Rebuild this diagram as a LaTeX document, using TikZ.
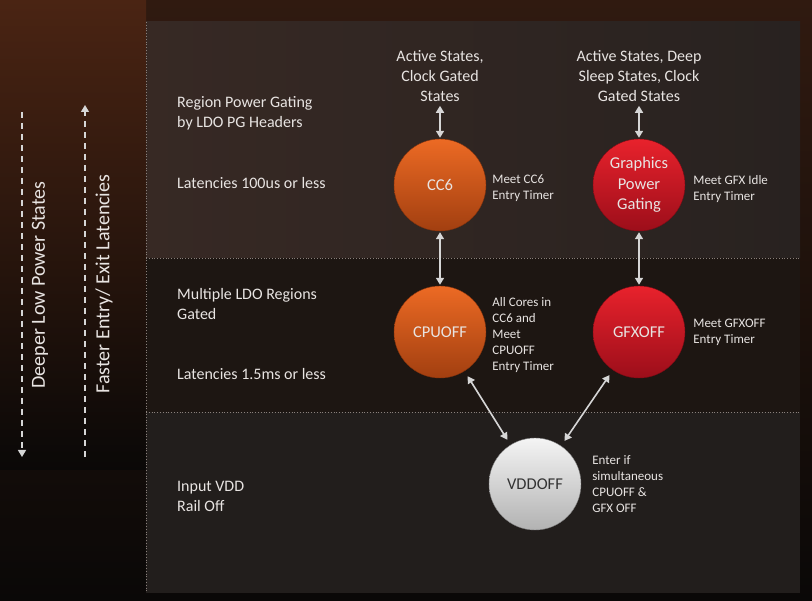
\documentclass[tikz,border=0pt]{standalone}
\usepackage{fontspec}
\setmainfont{Carlito}
\usepackage{tikz}
\usetikzlibrary{arrows.meta,positioning}
\definecolor{txtgray}{HTML}{E8E4E2}
\definecolor{arrowgray}{HTML}{D6D6D6}
\definecolor{dotgray}{HTML}{8A807B}
\definecolor{cpulight}{HTML}{EC6A24}
\definecolor{cpudark}{HTML}{A23F10}
\definecolor{gfxlight}{HTML}{E8222C}
\definecolor{gfxdark}{HTML}{9C0E1A}
\definecolor{vddlight}{HTML}{F4F4F4}
\definecolor{vdddark}{HTML}{B2B2B2}
\definecolor{bgtop}{HTML}{301A10}
\definecolor{bgbottom}{HTML}{0A0807}
\definecolor{bgbrown}{HTML}{4A2413}
\definecolor{bgbrownmid}{HTML}{3A1C0F}
\definecolor{paneltopA}{HTML}{372924}
\definecolor{paneltopB}{HTML}{282220}
\definecolor{panelmid}{HTML}{1D1612}
\definecolor{panelbot}{HTML}{221E1C}
\tikzstyle{cpustate} = [circle, minimum size=92pt, inner sep=0pt,
    top color=cpulight, bottom color=cpudark, draw=cpudark!80!black, thin,
    text=txtgray, align=center, font=\fontsize{16.5}{20.5}\selectfont]
\tikzstyle{gfxstate} = [cpustate, top color=gfxlight, bottom color=gfxdark, draw=gfxdark!80!black]
\tikzstyle{railstate} = [cpustate, top color=vddlight, bottom color=vdddark, draw=vdddark!70!black, text=black!80]
\tikzstyle{regiontext} = [text=txtgray, align=left, anchor=west, inner sep=0pt,
    font=\fontsize{16}{20}\selectfont]
\tikzstyle{sidenote} = [regiontext, font=\fontsize{13}{16}\selectfont]
\tikzstyle{toplabel} = [text=txtgray, align=center, inner sep=0pt, font=\fontsize{16}{20}\selectfont]
\tikzstyle{dblarrow} = [{Triangle[width=8pt,length=7pt]}-{Triangle[width=8pt,length=7pt]},
    arrowgray, line width=1.6pt, shorten <=2pt, shorten >=2pt]
\tikzstyle{dotline} = [dotgray, dotted, line width=0.8pt]
\tikzstyle{sidearrow} = [-{Triangle[width=8pt,length=7pt]}, arrowgray,
    dash pattern=on 6pt off 5pt, line width=1.4pt]
\tikzstyle{sidetitle} = [text=txtgray, rotate=90, inner sep=0pt, font=\fontsize{20}{24}\selectfont]

\begin{document}
\begin{tikzpicture}[x=1pt,y=-1pt]
\useasboundingbox (0,0) rectangle (812,601);
\fill[top color=bgtop, middle color=bgbottom, bottom color=bgbottom] (0,0) rectangle (812,601);
\fill[top color=bgbrown, middle color=bgbrownmid, bottom color=bgbottom] (0,0) rectangle (146,470);

\fill[left color=paneltopA, right color=paneltopB] (146,22) rectangle (800,258);
\fill[panelmid] (146,258) rectangle (800,412);
\fill[panelbot] (146,412) rectangle (800,593);
\draw[dotline] (146,22) -- (146,593);
\draw[dotline] (146,258) -- (800,258);
\draw[dotline] (146,412) -- (800,412);

\coordinate (deepstart) at (22,112);
\coordinate (deepend) at (22,457);
\coordinate (faststart) at (85,457);
\coordinate (fastend) at (85,105);
\draw[sidearrow] (deepstart) -- (deepend);
\draw[sidearrow] (faststart) -- (fastend);
\node[sidetitle] (deeper) at (40,285) {Deeper Low Power States};
\node[sidetitle] (faster) at (104,284) {Faster Entry/ Exit Latencies};

\node[regiontext] (pgtext) at (177,113) {Region Power Gating\\by LDO PG Headers};
\node[regiontext] (lat1) at (177,183) {Latencies 100us or less};
\node[regiontext] (ldotext) at (177,304.5) {Multiple LDO Regions\\Gated};
\node[regiontext] (lat2) at (177,374) {Latencies 1.5ms or less};
\node[regiontext] (vddtext) at (177,496.5) {Input VDD\\Rail Off};

\node[cpustate] (cc6) at (440,185) {CC6};
\node[gfxstate] (gfxpg) at (639,185) {Graphics\\Power\\Gating};
\node[cpustate] (cpuoff) at (440,332) {CPUOFF};
\node[gfxstate] (gfxoff) at (639,332) {GFXOFF};
\node[railstate] (vddoff) at (535,484) {VDDOFF};

\node[toplabel] (cc6src) at (440,76) {Active States,\\Clock Gated\\States};
\node[toplabel] (gfxsrc) at (639,76) {Active States, Deep\\Sleep States, Clock\\Gated States};

\node[sidenote, right=6pt of cc6, yshift=-3pt] (cc6note) {Meet CC6\\Entry Timer};
\node[sidenote, right=8pt of gfxpg, yshift=-4pt] (gfxpgnote) {Meet GFX Idle\\Entry Timer};
\node[sidenote, right=6pt of cpuoff, yshift=-3pt] (cpuoffnote) {All Cores in\\CC6 and\\Meet\\CPUOFF\\Entry Timer};
\node[sidenote, right=8pt of gfxoff] (gfxoffnote) {Meet GFXOFF\\Entry Timer};
\node[sidenote, right=11pt of vddoff] (vddoffnote) {Enter if\\simultaneous\\CPUOFF \&\\GFX OFF};

\draw[dblarrow, shorten <=4pt, shorten >=1pt] (cc6src) -- (cc6);
\draw[dblarrow, shorten <=4pt, shorten >=1pt] (gfxsrc) -- (gfxpg);
\draw[dblarrow, shorten <=1pt, shorten >=1pt] (cc6) -- (cpuoff);
\draw[dblarrow, shorten <=1pt, shorten >=1pt] (gfxpg) -- (gfxoff);
\draw[dblarrow, shorten <=6pt, shorten >=6pt] (cpuoff) -- (vddoff);
\draw[dblarrow, shorten <=6pt, shorten >=6pt] (gfxoff) -- (vddoff);
\end{tikzpicture}
\end{document}
